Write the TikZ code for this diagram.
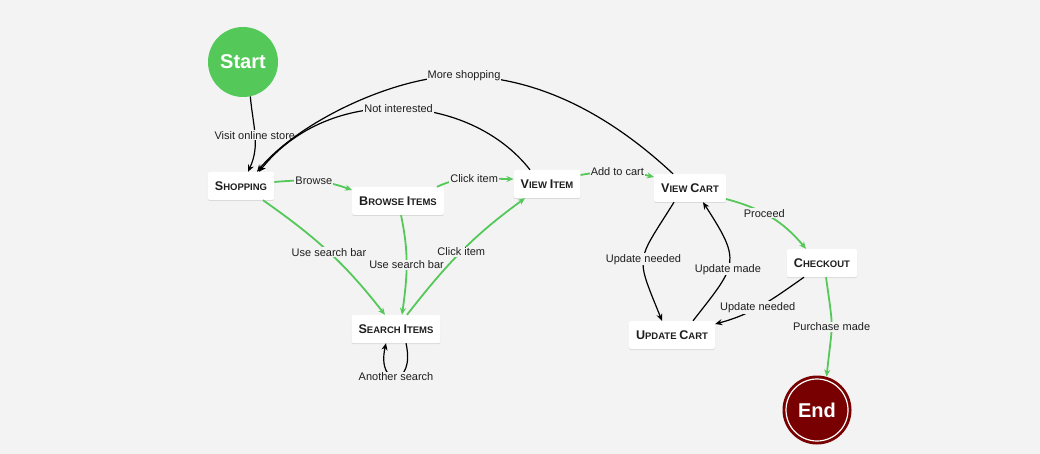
\documentclass[tikz,border=0pt]{standalone}
\usepackage{fontspec}
\setmainfont{Liberation Sans}
\usetikzlibrary{arrows.meta,shadows}
\definecolor{bg}{RGB}{243,243,243}
\definecolor{gr}{RGB}{84,201,90}
\definecolor{dred}{RGB}{120,0,0}
\definecolor{txt}{RGB}{30,30,30}
\newcommand\scn[2]{{\fontsize{12.6}{14}\selectfont #1}{\fontsize{9.5}{14}\selectfont #2}}
\begin{document}
\begin{tikzpicture}[x=1pt,y=1pt,
  state/.style={fill=white, rounded corners=2pt, minimum height=28pt, inner xsep=7pt,
    font=\bfseries, text=txt,
    drop shadow={shadow xshift=0pt,shadow yshift=-1pt,opacity=0.10,fill=black}},
  lbl/.style={fill=bg, inner sep=1pt, font=\fontsize{11}{13}\selectfont, text=txt},
  bedge/.style={draw=black, line width=1.2pt, -{Stealth[length=7pt,width=6pt]}},
  gedge/.style={draw=gr, line width=1.8pt, -{Stealth[length=7pt,width=6pt]}},
  bigcirc/.style={circle, minimum size=70pt, inner sep=0pt, text=white,
    font=\bfseries\fontsize{20}{22}\selectfont}
]
\fill[bg] (0,0) rectangle (1040,-454);
\useasboundingbox (0,0) rectangle (1040,-454);

% nodes
\node[bigcirc, fill=gr] (start) at (243,-62) {Start};
\node[state] (shop) at (241,-186) {\scn{S}{HOPPING}};
\node[state] (browse) at (398,-201) {\scn{B}{ROWSE} \scn{I}{TEMS}};
\node[state] (vitem) at (547,-184) {\scn{V}{IEW} \scn{I}{TEM}};
\node[state] (vcart) at (690,-188) {\scn{V}{IEW} \scn{C}{ART}};
\node[state] (search) at (396,-329) {\scn{S}{EARCH} \scn{I}{TEMS}};
\node[state] (update) at (672,-335) {\scn{U}{PDATE} \scn{C}{ART}};
\node[state] (checkout) at (822,-263) {\scn{C}{HECKOUT}};
\node[bigcirc, fill=dred, minimum size=69pt] (fin) at (817,-410) {End};
\draw[white, line width=1.2pt] (fin.center) circle[radius=31pt];

% black edges
\draw[bedge] (start.282) to[out=-85,in=65] node[lbl]{Visit online store} ([xshift=7pt]shop.north);
\draw[bedge] ([xshift=-17pt]vitem.north) .. controls (470,-93) and (330,-83) .. ([xshift=18pt]shop.north)
  node[lbl,pos=0.5]{Not interested};
\draw[bedge] ([xshift=-17pt]vcart.north) .. controls (610,-115) and (540,-78) .. (464,-76)
  node[lbl]{More shopping}
  .. controls (400,-74) and (300,-120) .. ([xshift=16pt]shop.north);

% green edges
\draw[gedge] ([yshift=4pt]shop.east) to[out=5,in=160] node[lbl]{Browse} ([yshift=11pt]browse.west);
\draw[gedge] ([xshift=39pt]browse.north) to[out=25,in=180] node[lbl]{Click item} ([yshift=5pt]vitem.west);
\draw[gedge] ([xshift=22pt]shop.south) to[out=-35,in=128] node[lbl]{Use search bar} ([xshift=-11pt]search.north);
\draw[gedge] ([xshift=3pt]browse.south) to[out=-78,in=82] node[lbl]{Use search bar} ([xshift=6pt]search.north);
\draw[gedge] ([xshift=11pt]search.north) to[out=52,in=-144] node[lbl]{Click item} ([xshift=-22pt]vitem.south);
\draw[gedge] ([yshift=9pt]vitem.east) to[bend left=12] node[lbl]{Add to cart} ([yshift=11pt]vcart.west);

% cart loop
\draw[bedge] ([xshift=-16pt]vcart.south) to[out=-122,in=112,looseness=1.55] node[lbl]{Update needed} ([xshift=-10pt]update.north);
\draw[bedge] ([xshift=21pt]update.north) to[out=52,in=-57,looseness=1.55] node[lbl,pos=0.43]{Update made} ([xshift=13pt]vcart.south);
\draw[gedge] ([yshift=-11pt]vcart.east) to[out=-15,in=130] node[lbl,pos=0.42]{Proceed} ([xshift=-16pt]checkout.north);
\draw[bedge] ([xshift=-18pt]checkout.south) to[out=-145,in=15] node[lbl,pos=0.55]{Update needed} ([yshift=11pt]update.east);
\draw[gedge] ([xshift=4pt]checkout.south) to[out=-82,in=84,looseness=1.5] node[lbl]{Purchase made} (fin.74);

% self loop
\draw[bedge] ([xshift=10pt]search.south) .. controls (416,-388) and (376,-388) .. ([xshift=-10pt]search.south)
  node[lbl,pos=0.5]{Another search};
\end{tikzpicture}
\end{document}
